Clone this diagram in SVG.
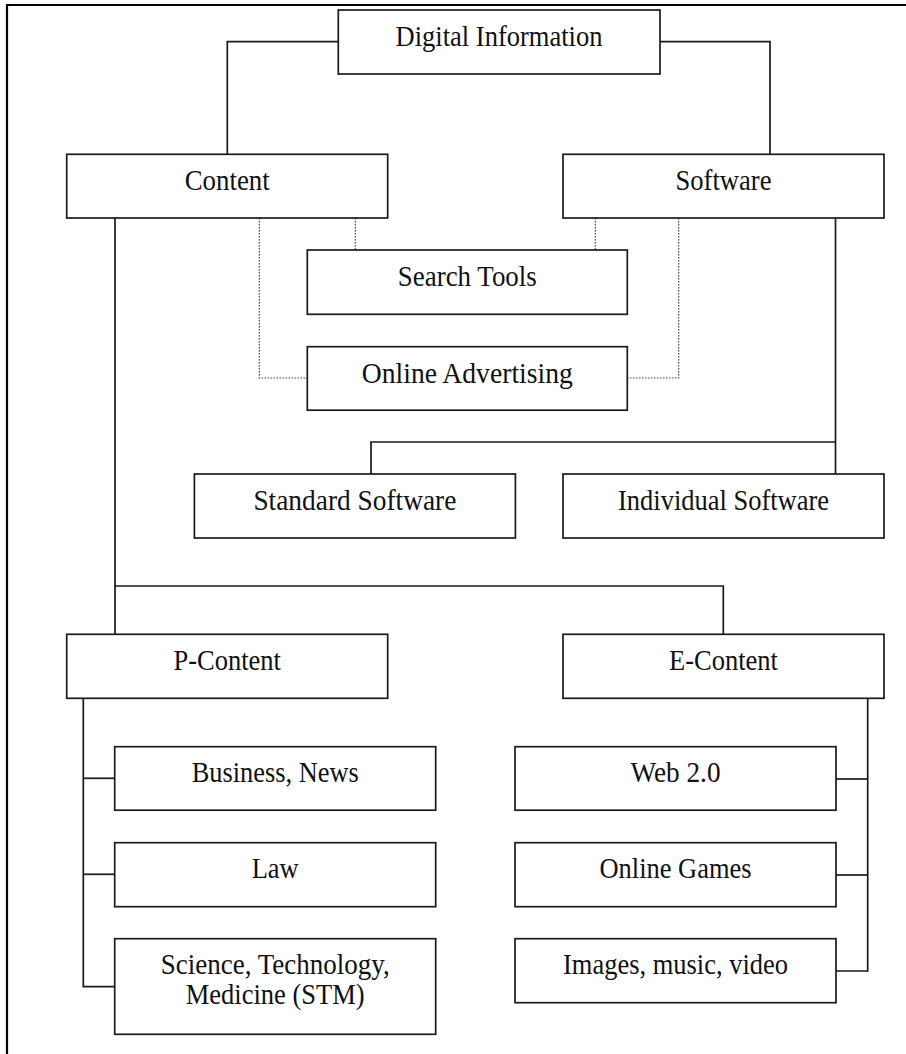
<svg xmlns="http://www.w3.org/2000/svg" width="906" height="1054" viewBox="0 0 906 1054">
<style>
.box{fill:#fff;stroke:#1a1a1a;stroke-width:1.7}
.lbl{font-family:"Liberation Serif","Times New Roman",serif;font-size:28.5px;fill:#111;text-anchor:middle}
.ln{fill:none;stroke:#1a1a1a;stroke-width:1.7}
.dot{fill:none;stroke:#1a1a1a;stroke-width:1.2;stroke-dasharray:1.2 1.8}
.frame{fill:none;stroke:#000;stroke-width:2.2}
</style>
<rect width="906" height="1054" fill="#fff"/>
<path class="frame" d="M7,1054 V5 H906"/>
<g id="connectors">
<path class="ln" d="M338.3,41.7 H227.3 V154.3"/>
<path class="ln" d="M660,41.7 H770 V154.3"/>
<path class="ln" d="M115,217.7 V634.3"/>
<path class="ln" d="M115,586 H723.3 V634.3"/>
<path class="ln" d="M835.5,218.3 V474"/>
<path class="ln" d="M835.5,442 H371 V474"/>
<path class="ln" d="M83.3,698.3 V986.7 H114.7"/>
<path class="ln" d="M83.3,778.3 H114.7"/>
<path class="ln" d="M83.3,874.3 H114.7"/>
<path class="ln" d="M867.7,698.3 V971 H836"/>
<path class="ln" d="M867.7,779 H836"/>
<path class="ln" d="M867.7,875 H836"/>
<path class="dot" d="M259.3,218.3 V378 H307.3"/>
<path class="dot" d="M355.3,218.3 V250"/>
<path class="dot" d="M595.3,218.3 V250"/>
<path class="dot" d="M678.7,218.3 V378 H627.3"/>
</g>
<g id="digital-information"><rect class="box" x="338.3" y="10" width="321.7" height="64"/><text class="lbl" x="499" y="45.7" textLength="207" lengthAdjust="spacingAndGlyphs">Digital Information</text></g>
<g id="content"><rect class="box" x="66.7" y="154.3" width="321" height="63.7"/><text class="lbl" x="227.2" y="190" textLength="85" lengthAdjust="spacingAndGlyphs">Content</text></g>
<g id="software"><rect class="box" x="563" y="154.3" width="321" height="63.7"/><text class="lbl" x="723.5" y="190" textLength="96" lengthAdjust="spacingAndGlyphs">Software</text></g>
<g id="search-tools"><rect class="box" x="307.3" y="250" width="320" height="64.3"/><text class="lbl" x="467.3" y="286" textLength="139" lengthAdjust="spacingAndGlyphs">Search Tools</text></g>
<g id="online-advertising"><rect class="box" x="307.3" y="346.7" width="320" height="63.5"/><text class="lbl" x="467.3" y="382.5" textLength="211" lengthAdjust="spacingAndGlyphs">Online Advertising</text></g>
<g id="standard-software"><rect class="box" x="194.4" y="474" width="321" height="64"/><text class="lbl" x="354.9" y="510" textLength="203" lengthAdjust="spacingAndGlyphs">Standard Software</text></g>
<g id="individual-software"><rect class="box" x="563" y="474" width="321" height="64"/><text class="lbl" x="723.5" y="510" textLength="211" lengthAdjust="spacingAndGlyphs">Individual Software</text></g>
<g id="p-content"><rect class="box" x="66.7" y="634.3" width="321" height="64"/><text class="lbl" x="227.2" y="670" textLength="107.5" lengthAdjust="spacingAndGlyphs">P-Content</text></g>
<g id="e-content"><rect class="box" x="563" y="634.3" width="321" height="64"/><text class="lbl" x="723.5" y="670" textLength="109" lengthAdjust="spacingAndGlyphs">E-Content</text></g>
<g id="business-news"><rect class="box" x="114.7" y="746.7" width="321" height="63.5"/><text class="lbl" x="275.2" y="782" textLength="167" lengthAdjust="spacingAndGlyphs">Business, News</text></g>
<g id="law"><rect class="box" x="114.7" y="842.7" width="321" height="64"/><text class="lbl" x="275.2" y="878.3" textLength="47" lengthAdjust="spacingAndGlyphs">Law</text></g>
<g id="stm"><rect class="box" x="114.7" y="938.7" width="321" height="95.6"/><text class="lbl" x="275.2" y="974" textLength="229" lengthAdjust="spacingAndGlyphs">Science, Technology,</text><text class="lbl" x="275.2" y="1004.3" textLength="179" lengthAdjust="spacingAndGlyphs">Medicine (STM)</text></g>
<g id="web-2-0"><rect class="box" x="515" y="746.7" width="321" height="63.5"/><text class="lbl" x="675.5" y="782" textLength="90" lengthAdjust="spacingAndGlyphs">Web 2.0</text></g>
<g id="online-games"><rect class="box" x="515" y="842.7" width="321" height="64"/><text class="lbl" x="675.5" y="878.3" textLength="152" lengthAdjust="spacingAndGlyphs">Online Games</text></g>
<g id="images-music-video"><rect class="box" x="515" y="938.7" width="321" height="64"/><text class="lbl" x="675.5" y="974" textLength="225" lengthAdjust="spacingAndGlyphs">Images, music, video</text></g>
</svg>
